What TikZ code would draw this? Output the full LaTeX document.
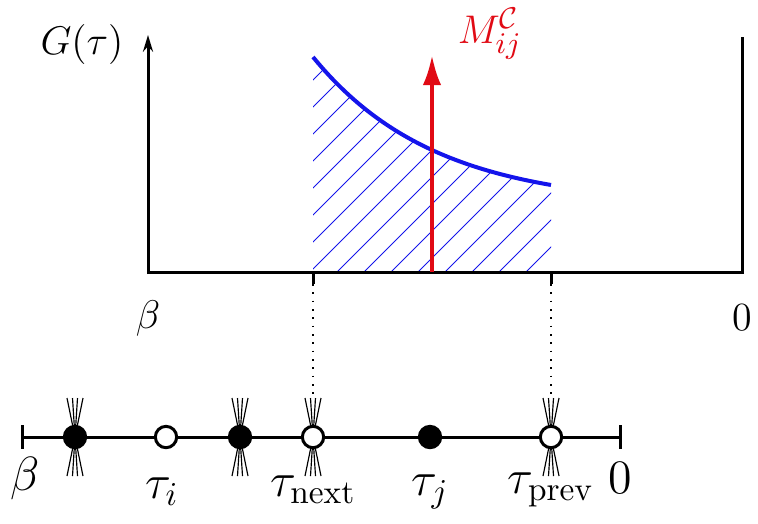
\documentclass[tikz,border=0pt]{standalone}
\usetikzlibrary{arrows.meta}
\definecolor{myblue}{RGB}{20,20,235}
\definecolor{myred}{RGB}{225,10,20}
\begin{document}
\begin{tikzpicture}[x={(0.3pt,0)},y={(0,-0.3pt)},
  font=\fontsize{12.5}{15}\selectfont,
  axis/.style={line width=0.9pt},
  fan/.style={line width=0.35pt},
  fullv/.style={circle,fill=black,draw=black,line width=0.9pt,minimum size=6.4pt,inner sep=0pt},
  openv/.style={circle,fill=white,draw=black,line width=0.9pt,minimum size=6.4pt,inner sep=0pt},
  lbl/.style={inner sep=0pt},
  blbl/.style={inner sep=0pt,font=\fontsize{14}{16}\selectfont}]
\useasboundingbox (0,0) rectangle (758,523);
% hatch region
\begin{scope}
\clip (313,272) -- plot[domain=0:238,samples=60] ({313+\x},{272-(66+149*exp(-0.00822*\x))}) -- (551,272) -- cycle;
\foreach \k in {0,...,22} {
  \draw[myblue,line width=0.3pt] ({40+27*\k},272) -- ++(300,-300);
}
\end{scope}
\draw[myblue,line width=1.2pt] plot[domain=0:238,samples=60] ({313+\x},{272-(66+149*exp(-0.00822*\x))});
% axes
\coordinate (o) at (148,272);
\coordinate (ytop) at (148,35);
\coordinate (xend) at (742,272);
\coordinate (rtop) at (742,37);
\draw[axis,-{Stealth[length=5pt,width=3pt]}] (148,274) -- (ytop);
\draw[axis] (o) -- (xend) -- (rtop);
\node[lbl] (G) at (82,44) {$G(\tau)$};
\node[lbl] (b1) at (148,318) {$\beta$};
\node[lbl] (z1) at (742,318) {$0$};
% ticks and dotted
\coordinate (t1) at (313,272);
\coordinate (t1b) at (313,284);
\coordinate (t2) at (551,272);
\coordinate (t2b) at (551,284);
\draw[line width=0.9pt] (t1) -- (t1b);
\draw[line width=0.9pt] (t2) -- (t2b);
\coordinate (d1) at (313,400);
\coordinate (d2) at (551,400);
\draw[dotted,line width=0.5pt] (t1b) -- (d1);
\draw[dotted,line width=0.5pt] (t2b) -- (d2);
% red arrow
\coordinate (rb) at (432,272);
\coordinate (rt) at (432,55);
\draw[myred,line width=1.2pt,-{Latex[length=9pt,width=5.5pt]}] (rb) -- (rt);
\node[lbl,myred] (M) at (490,34) {$M_{ij}^{\mathcal{C}}$};
% bottom line
\coordinate (L) at (22,437);
\coordinate (R) at (620,437);
\draw[axis] (L) -- (R);
\draw[axis] (22,425) -- (22,449);
\draw[axis] (620,425) -- (620,449);
% fans
\foreach \x in {75,240,313,551} {
  \foreach \d in {-8,-2.5,2.5,8} {
    \draw[fan] (\x,437) -- ++(\d,-39);
    \draw[fan] (\x,437) -- ++(\d,39);
  }
}
\node[fullv] (v1) at (75,437) {};
\node[openv] (v2) at (166,437) {};
\node[fullv] (v3) at (240,437) {};
\node[openv] (v4) at (313,437) {};
\node[fullv] (v5) at (430,437) {};
\node[openv] (v6) at (551,437) {};
\node[blbl] (b2) at (25,478) {$\beta$};
\node[blbl] (ti) at (162,492) {$\tau_i$};
\node[blbl] (tn) at (313,490) {$\tau_{\mathrm{next}}$};
\node[blbl] (tj) at (430,492) {$\tau_j$};
\node[blbl] (tp) at (551,490) {$\tau_{\mathrm{prev}}$};
\node[blbl] (z2) at (620,478) {$0$};
\end{tikzpicture}
\end{document}
